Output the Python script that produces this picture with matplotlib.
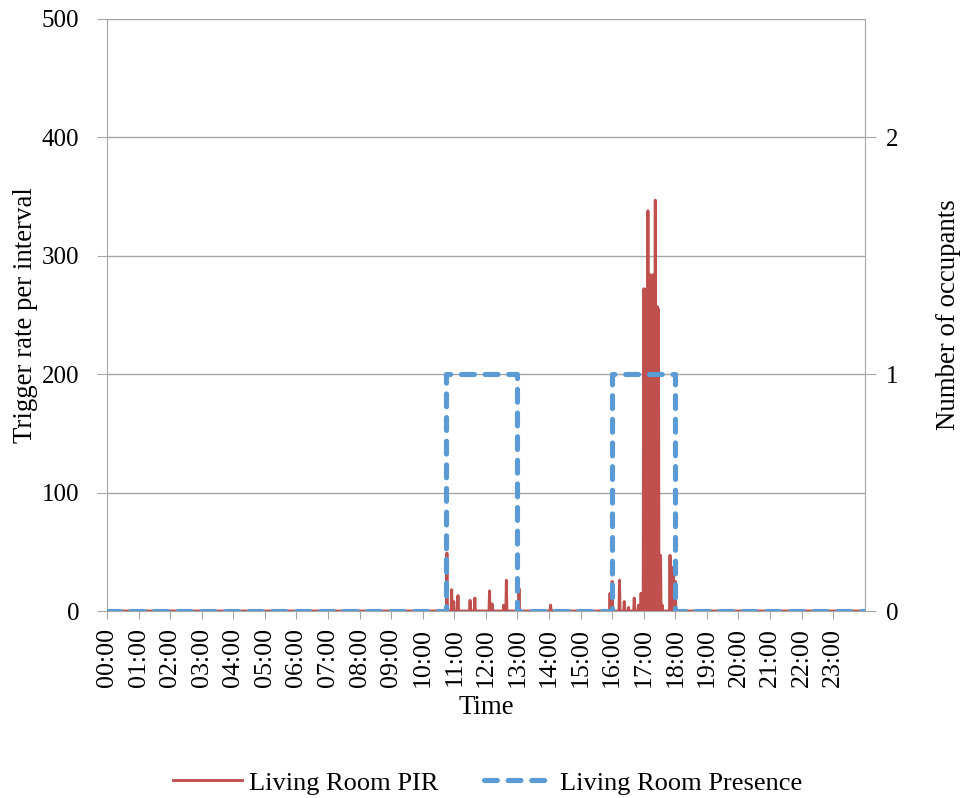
import numpy as np
import matplotlib
matplotlib.use("agg")
import matplotlib.pyplot as plt

plt.rcParams['font.family'] = ['Liberation Serif', 'DejaVu Serif']

# PIR trigger counts (1-minute intervals), only non-zero readings listed
pir_times = ["10:46", "10:55", "10:59", "11:07", "11:30", "11:39", "12:07", "12:12",
             "12:34", "12:39", "13:03", "14:03",
             "15:56", "16:00", "16:14", "16:23", "16:31", "16:42", "16:50", "16:55",
             "17:00", "17:02", "17:04", "17:06", "17:08", "17:10",
             "17:12", "17:14", "17:16", "17:18", "17:20", "17:22",
             "17:24", "17:26", "17:28", "17:30", "17:32",
             "17:35", "17:50", "17:56", "18:00"]
pir_vals = [49, 18, 8, 13, 9, 11, 17, 6,
            5, 26, 19, 5,
            15, 25, 26, 8, 3, 11, 5, 15,
            272, 272, 270, 272, 338, 284,
            284, 283, 280, 284, 284, 347,
            257, 257, 255, 47, 47,
            5, 47, 37, 25]

# occupancy (step changes)
pres_times = ["00:00", "10:45", "13:00", "16:00", "18:00", "24:00"]
pres_vals = [0, 1, 0, 1, 0, 0]

hour_labels = ["%02d:00" % h for h in range(24)]


def to_hours(t):
	h, m = t.split(":")
	return int(h) + int(m) / 60.0


# build the minute series
minutes = np.arange(0, 1440)
pir = np.zeros(1440)
for t, v in zip(pir_times, pir_vals):
	h, m = t.split(":")
	pir[int(h) * 60 + int(m)] = v
x_pir = minutes / 60.0
x_pres = [to_hours(t) for t in pres_times]

red = "#C0504D"
blue = "#5B9BD5"
grey = "#A6A6A6"

fig = plt.figure(figsize=(9.64, 7.98), dpi=100)
ax = fig.add_axes([0.111, 0.2343, 0.786, 0.7419])
ax2 = ax.twinx()

l1, = ax.plot(x_pir, pir, color=red, lw=2.1, label="Living Room PIR")
l2, = ax2.plot(x_pres, pres_vals, color=blue, lw=3.7, drawstyle="steps-post",
	dashes=(2.5, 2.1), dash_capstyle="round", label="Living Room Presence")

ax.set_xlim(0, 24)
ax.set_ylim(0, 500)
ax2.set_ylim(0, 2.5)
ax.set_yticks(range(0, 501, 100))
ax2.set_yticks([0, 1, 2])
ax.set_xticks(range(24))
ax.set_xticklabels(hour_labels, rotation=90, fontsize=18.7)
ax.tick_params(axis="y", labelsize=18, length=7, color=grey, pad=13)
ax.tick_params(axis="x", length=6, color=grey, pad=6)
ax2.tick_params(axis="y", labelsize=18, length=8, color=grey, pad=7)

ax.grid(axis="y", color=grey, lw=1)
ax.set_axisbelow(True)
for a in (ax, ax2):
	for s in a.spines.values():
		s.set_color(grey)
	a.spines["top"].set_visible(False)
ax.spines["right"].set_visible(False)
ax2.spines["left"].set_visible(False)
ax2.spines["bottom"].set_visible(False)

ax.set_ylabel("Trigger rate per interval", fontsize=19.4, labelpad=3)
ax2.set_ylabel("Number of occupants", fontsize=19.4, labelpad=27)
ax.set_xlabel("Time", fontsize=19.4, labelpad=6)

fig.legend([l1, l2], ["Living Room PIR", "Living Room Presence"], loc="center",
	bbox_to_anchor=(0.506, 0.019), ncol=2, frameon=False, fontsize=19,
	handlelength=2.6, handletextpad=0.27, columnspacing=1.75)

fig.savefig("out.png", dpi=100)
